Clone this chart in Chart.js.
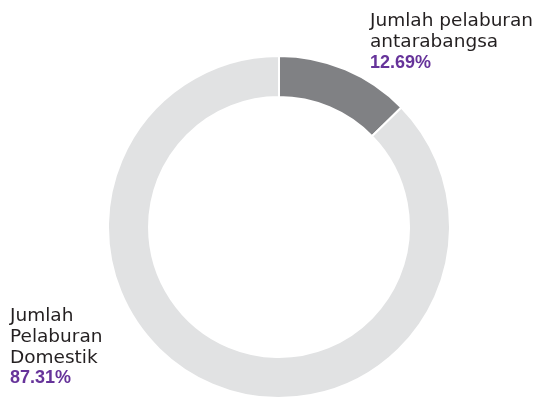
<!DOCTYPE html>
<html><head><meta charset="utf-8">
<script src="https://cdn.jsdelivr.net/npm/chart.js@4/dist/chart.umd.min.js"></script>
<style>html,body{margin:0;padding:0;background:#fff}#wrap{width:535px;height:400px}</style>
</head><body><div id="wrap"><canvas id="c" width="535" height="400"></canvas></div>
<script>
const categories = [["Jumlah pelaburan","antarabangsa"],["Jumlah","Pelaburan","Domestik"]];
const values = [12.69, 87.31];
const colors = ["#808184", "#e1e2e3"];
const valueLabels = ["12.69%", "87.31%"];

const labelPlugin = {
  id: 'labels',
  afterDraw(chart) {
    const ctx = chart.ctx;
    ctx.save();
    ctx.textBaseline = 'alphabetic';
    ctx.textAlign = 'left';
    const place = [{x: 370, y: 26}, {x: 10, y: 321}];
    const lh = 20.8;
    categories.forEach((lines, i) => {
      let y = place[i].y;
      ctx.font = '18.5px "DejaVu Sans"';
      ctx.fillStyle = '#231f20';
      lines.forEach(l => { ctx.fillText(l, place[i].x, y); y += lh; });
      ctx.font = 'bold 18px "Liberation Sans"';
      ctx.fillStyle = '#66339a';
      ctx.fillText(valueLabels[i], place[i].x, y);
    });
    ctx.restore();
  }
};

new Chart(document.getElementById('c'), {
  type: 'doughnut',
  data: {
    labels: categories.map(l => l.join(' ')),
    datasets: [{ data: values, backgroundColor: colors, borderColor: '#ffffff', borderWidth: 2 }]
  },
  options: {
    responsive: false,
    animation: false,
    cutout: '76%',
    layout: { padding: { left: 107, right: 84, top: 55, bottom: 1 } },
    plugins: { legend: { display: false }, tooltip: { enabled: false } }
  },
  plugins: [labelPlugin]
});
</script></body></html>
